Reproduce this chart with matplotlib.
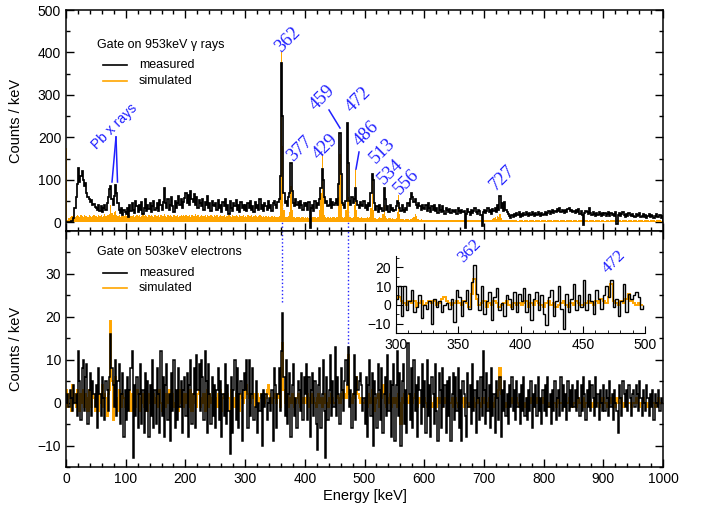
import numpy as np
import matplotlib
matplotlib.use("Agg")
import matplotlib.pyplot as plt
from matplotlib.ticker import MultipleLocator

plt.rcParams['font.family'] = ['Liberation Sans', 'DejaVu Sans']

# 2 keV bins from 0 to 1000 keV
bin_edges_kev = list(range(0, 1002, 2))

top_measured = [
    0, 0, 1, 2, 3, 4, 10, 35, 60, 90, 128, 95, 110, 122, 100, 85, 92, 70, 60, 55, 48, 52, 40, 44, 36,
    35, 30, 42, 28, 38, 25, 33, 40, 30, 45, 60, 78, 85, 55, 40, 62, 88, 70, 45, 30, 22, 35, 18, 30, 25,
    20, 35, 12, 40, 28, 45, 30, 22, 50, 38, 25, 42, 30, 48, 20, 35, 55, 28, 40, 32, 45, 25, 38, 50, 30,
    35, 45, 28, 52, 40, 30, 48, 80, 45, 35, 55, 30, 42, 60, 38, 25, 50, 35, 45, 62, 40, 55, 35, 48, 58,
    70, 45, 65, 40, 75, 55, 48, 68, 42, 60, 35, 52, 45, 38, 55, 30, 48, 40, 62, 35, 45, 28, 50, 42, 38,
    45, 30, 52, 35, 40, 25, 48, 38, 55, 30, 42, 20, 50, 35, 28, 45, 38, 52, 30, 40, 25, 48, 35, 42, 30,
    40, 28, 45, 35, 50, 30, 38, 25, 48, 35, 42, 30, 55, 32, 40, 28, 45, 38, 30, 50, 35, 42, 28, 45, 50,
    40, 35, 48, 55, 110, 375, 250, 70, 45, 50, 38, 60, 70, 140, 75, 45, 38, 55, 40, 48, 35, 50, 42, 30, 45,
    38, 45, 30, 48, -12, 35, 42, 28, 50, 35, 45, 40, 55, 80, 125, 100, 60, 45, 50, 38, 42, 55, 35, 48, 40,
    45, 55, 40, 90, 210, 115, 45, 40, 35, 50, 235, 140, 50, 40, 60, 45, 55, 80, 50, 40, 35, 48, 42, 38, 50,
    35, 42, 30, 45, 38, 70, 115, 100, 45, 30, 38, 25, 40, 32, 35, 28, 80, 55, 30, 38, 25, 42, 30, 35, 28,
    30, 38, 50, 45, 35, 28, 40, 30, 25, 35, 30, 45, 38, 55, 70, 60, 48, 55, 40, 35, 45, 38, 30, 42, 35,
    32, 40, 28, 45, 35, 25, 38, 30, 42, 28, 35, 22, 40, 30, 25, 38, 28, 20, 35, 30, 25, 32, 22, 30, 28,
    25, 30, 20, 35, 28, 22, 30, 25, 28, -12, 20, 32, 25, 18, 30, 22, 28, 35, 25, 20, 30, 26, 18, -8, 25,
    30, 22, 28, 35, 25, 30, 20, 32, 28, 35, 25, 40, 30, 62, 35, 45, 28, 48, 30, 25, 20, 15, 10, 18, 12,
    20, 15, 22, 18, 25, 12, 20, 16, 22, 18, 25, 20, 15, 22, 18, 24, 20, 15, 22, 18, 25, 20, 16, 22, 18,
    20, 25, 18, 22, 28, 20, 25, 30, 22, 28, 25, 32, 28, 35, 25, 30, 28, 22, 30, 25, 32, 35, 28, 30, 25,
    28, 22, 30, 25, 32, 20, 26, 18, -5, 22, 28, 25, 20, 35, 22, 18, 25, 20, 16, 22, 18, 24, 20, 15, 22,
    18, 22, 15, 20, 25, 16, 22, 18, 20, 15, 24, -4, 18, 22, 15, 20, 25, 18, 14, 20, 16, 22, 18, 15, 20,
    16, 12, 20, 15, 18, 22, 12, 16, 20, 14, 18, 10, 16, 20, 12, 18, 15, 10, 16, 20, 14, 12, 18, 10, 15,
]

top_simulated = [
    175, 5, 10, 14, 16, 15, 17, 14, 16, 18, 15, 13, 17, 16, 14, 18, 15, 16, 13, 17, 15, 14, 16, 18, 15,
    16, 14, 18, 15, 17, 13, 16, 19, 15, 17, 18, 20, 40, 22, 18, 25, 28, 18, 15, 17, 14, 16, 18, 15, 17,
    15, 17, 14, 18, 16, 15, 17, 13, 16, 18, 15, 17, 14, 16, 19, 15, 17, 16, 14, 18, 15, 17, 16, 14, 18,
    16, 15, 18, 14, 17, 16, 15, 19, 16, 14, 17, 15, 18, 16, 14, 17, 16, 15, 18, 14, 16, 17, 15, 18, 16,
    17, 15, 16, 18, 14, 17, 15, 16, 19, 15, 17, 14, 16, 18, 15, 16, 17, 14, 18, 16, 15, 17, 16, 14, 17,
    15, 17, 14, 16, 18, 15, 16, 17, 14, 16, 15, 18, 16, 14, 17, 15, 16, 18, 15, 14, 17, 16, 15, 17, 14,
    16, 14, 17, 15, 16, 18, 14, 15, 17, 16, 14, 15, 17, 16, 14, 15, 13, 16, 14, 15, 13, 14, 16, 13, 15,
    13, 14, 12, 15, 60, 400, 180, 30, 14, 12, 13, 15, 25, 85, 30, 14, 12, 11, 13, 12, 14, 11, 12, 13, 11,
    12, 11, 13, 10, 12, 11, 13, 12, 14, 11, 12, 13, 30, 70, 160, 60, 18, 12, 11, 13, 10, 12, 11, 13, 12,
    11, 12, 14, 60, 160, 50, 12, 11, 13, 30, 170, 60, 14, 12, 11, 13, 40, 125, 30, 12, 11, 10, 12, 11, 10,
    11, 10, 12, 11, 12, 35, 100, 30, 10, 11, 9, 10, 12, 11, 10, 20, 40, 15, 10, 9, 11, 10, 9, 10, 9,
    9, 10, 25, 65, 20, 9, 8, 9, 7, 8, 9, 8, 7, 9, 8, 10, 12, 20, 15, 9, 8, 7, 8, 7, 6,
    6, 5, 7, 6, 5, 6, 7, 5, 6, 5, 6, 7, 5, 6, 5, 6, 5, 7, 6, 5, 6, 5, 6, 7, 5,
    6, 5, 6, 7, 5, 6, 5, 6, 5, 7, 6, 5, 6, 5, 6, 7, 5, 6, 5, 6, 5, 6, 7, 5, 6,
    5, 6, 5, 7, 6, 5, 6, 8, 10, 12, 8, 15, 12, 20, 10, 7, 6, 5, 6, 5, 6, 5, 6, 5, 5,
    5, 6, 5, 4, 6, 5, 5, 6, 4, 5, 6, 5, 4, 5, 6, 5, 5, 4, 6, 5, 5, 6, 4, 5, 5,
    6, 5, 4, 5, 6, 5, 5, 4, 6, 5, 5, 6, 5, 4, 5, 6, 5, 5, 4, 6, 5, 5, 6, 5, 4,
    5, 5, 6, 4, 5, 6, 5, 5, 4, 6, 5, 5, 4, 6, 5, 5, 6, 4, 5, 5, 6, 5, 4, 5, 6,
    5, 4, 6, 5, 5, 4, 6, 5, 5, 6, 4, 5, 5, 6, 5, 4, 5, 6, 5, 5, 4, 6, 5, 5, 4,
    6, 5, 5, 4, 6, 5, 5, 6, 4, 5, 5, 6, 5, 4, 5, 5, 6, 5, 4, 5, 6, 5, 5, 4, 5,
]

bottom_measured = [
    0, 2, -1, 3, 1, -2, 4, 0, 2, -3, 12, 5, -4, 8, 10, -2, 6, 9, -5, 3, 7, -3, 5, 2, -1,
    4, -6, 8, 2, -3, 6, 1, -4, 5, 3, -2, 6, 16, 8, 4, -1, 10, -3, 5, 9, -5, 2, 7, -8, 3,
    -4, 6, -2, 3, 8, 12, -13, 4, -3, 6, -6, 2, 9, -5, 3, -7, 7, -2, 5, -8, 4, -3, 10, -6, 3,
    -5, 8, 2, -7, 12, -3, 6, -8, 4, 9, -4, 2, -9, 7, -2, 10, -6, 3, -4, 8, -1, 5, -7, 3, 6,
    -3, 7, -8, 4, 10, -5, 2, 8, -6, 11, 3, 9, -2, 10, 6, -4, 12, 5, -7, 9, 2, -5, 6, -3, 4,
    -6, 3, 8, -4, 5, -8, 2, -3, 9, -5, 4, -2, -12, 6, -7, 3, 10, -4, 8, -6, 2, 5, -9, 3, 7,
    3, 10, -6, 10, -3, 2, 8, -4, -1, 5, -7, 0, -2, 2, -10, 3, -1, 2, -4, 0, 1, -2, 3, -9, 8,
    4, -6, 2, 8, -2, 12, 21, 6, -3, 10, -5, 2, 7, -8, 4, 9, -3, 1, -6, 5, 3, -2, 7, -4, 6,
    2, 9, -4, 6, -8, 3, 7, -3, 5, -5, -11, 4, 8, -6, 2, 10, -2, -13, 6, -4, 3, 11, -3, 5, -1,
    13, -3, 6, 2, -5, 8, 3, -2, 5, 10, 4, 13, -1, 3, -6, 2, 11, -4, 6, 3, 5, 7, 4, -2, 1,
    -5, 6, -8, 4, 10, -3, 7, -10, 5, 2, -6, 9, 3, -4, 8, -7, 2, 6, -3, 11, -2, 5, -8, 4, 9,
    -9, 4, 12, -3, 7, -10, 5, 9, -5, 3, -7, 14, 2, -4, 8, -6, 10, -2, 4, -8, 6, 3, -5, 9, -1,
    5, -7, 10, -3, 4, -8, 6, 2, -5, 9, -2, -9, 7, 3, -6, 8, -1, 4, -7, 5, -3, 6, -9, 2, 7,
    -4, 6, -2, 8, -6, 3, -9, 5, 2, -3, -8, 7, -1, 4, -5, 9, -2, 3, -7, 5, 1, -4, 6, -3, 12,
    3, -5, 7, -2, 4, -6, 8, -3, 2, -7, 5, 1, -4, 6, -8, 3, -2, 5, -3, 2, -5, 4, -1, 6, -2,
    3, -4, 5, -1, 2, -5, 4, -2, 6, -3, 1, -4, 3, -2, 5, -6, 2, -1, 4, -3, 6, -2, 1, -5, 3,
    -2, 4, -3, 6, -1, 2, -5, 3, -2, 5, -4, 1, 3, -3, 6, -2, 4, -1, 2, -4, 5, -2, 3, -1, 4,
    -1, 3, -2, 5, 1, -3, 4, -2, 6, 2, -4, 3, -1, 5, -2, 4, 1, -3, 6, -1, 2, -4, 3, 0, -2,
    4, -2, 3, 1, -3, 5, -1, 2, -4, 3, 0, -2, -7, 4, 1, -3, 5, 2, -1, 3, -2, 4, 1, -3, 2,
    3, -1, 4, 2, -2, 5, 1, -3, 3, 0, -2, 4, 1, -3, 2, -1, 3, -4, 2, 0, -1, 3, -2, 1, 0,
]

bottom_simulated = [
    3, -1, 2, 1, -2, 4, 0, 2, -1, 3, 1, -2, 2, 0, 3, -1, 2, 1, -2, 3, 0, -1, 2, 1, -2,
    1, 3, -2, 2, 0, 4, -1, 2, 1, -3, 2, 3, 19, 5, -4, 2, 6, 1, -2, 3, 0, -1, 2, 1, -1,
    2, -1, 1, 3, -2, 2, 0, 1, -1, 3, 2, -2, 1, 0, 2, -1, 3, 1, -2, 2, 0, 1, -1, 2, 0,
    1, 2, -1, 3, 0, -2, 2, 1, -1, 2, 0, 3, -2, 1, 2, -1, 0, 2, 1, -2, 3, 0, 1, -1, 2,
    0, 2, -1, 1, 3, -2, 2, 0, 1, -1, 2, 3, -1, 1, 0, 2, -2, 1, 3, -1, 2, 0, 1, -1, 2,
    1, -1, 2, 0, 3, -2, 1, 2, -1, 0, 2, 1, -2, 3, 0, 1, -1, 2, 0, 1, -2, 2, 1, 0, 1,
    3, 4, 2, 1, 0, 2, 1, 2, -1, 1, 2, 0, 1, 2, 1, 2, 0, 1, 3, 4, 2, 1, 0, 1, 2,
    1, 0, 2, 1, -1, 6, 14, 3, 0, 1, 2, -1, 1, 0, 2, 1, -1, 0, 1, 2, 0, -1, 1, 0, 1,
    0, 1, 2, -1, 1, 0, 2, 1, 0, -1, 1, 2, 0, 1, -1, 0, 1, 2, 0, -1, 1, 0, 2, 1, 0,
    0, 1, 2, 1, 0, 2, 1, 3, 2, 1, 4, 11, 2, 1, 0, 2, 1, 3, 6, 2, 1, 0, 1, 0, 0,
    1, 0, -1, 2, 1, 0, 3, 1, -2, 0, 1, 2, -1, 0, 1, 4, 2, 0, -1, 1, 0, 2, -1, 0, 1,
    0, 1, -1, 2, 0, -5, 1, 0, 2, -1, 1, 0, 2, 1, -1, 0, 1, 2, 0, -1, 1, 0, 1, 0, -1,
    1, 0, -1, 1, 0, 1, -1, 0, 1, 0, -1, 1, 0, 0, 1, -1, 0, 1, 0, -1, 1, 0, 0, 1, -1,
    0, 1, 0, -1, 1, 0, 0, 1, -1, 0, 1, 0, -1, 0, 1, 0, 1, -1, 0, 0, 1, 0, -1, 1, 0,
    0, 1, 0, -1, 1, 0, 1, 0, -1, 1, 2, 1, 3, 8, 2, 0, 1, 0, -1, 0, 1, 0, 0, 1, 0,
    0, 0, 1, 0, -1, 0, 1, 0, 0, -1, 0, 1, 0, 0, 1, 0, -1, 0, 0, 1, 0, 0, -1, 0, 1,
    0, 1, 0, 0, -1, 0, 0, 1, 0, 0, -1, 0, 1, 0, 0, 0, 1, 0, -1, 0, 0, 1, 0, 0, -1,
    0, 0, -1, 0, 1, 0, 0, 0, 1, -1, 0, 0, 1, 0, 0, -1, 0, 1, 0, 0, 0, -1, 0, 1, 0,
    1, 0, 0, -1, 0, 0, 1, 0, 0, 0, -1, 1, 0, 0, 0, 1, -1, 0, 0, 1, 0, 0, 0, -1, 0,
    0, 0, 1, 0, 0, -1, 0, 0, 1, 0, 0, 0, -1, 0, 1, 0, 0, 0, -1, 0, 0, 1, 0, 0, 0,
]

peak_labels_top = ["362", "377", "429", "459", "472", "486", "513", "534", "556", "727"]
peak_labels_inset = ["362", "472"]
x_ticks = [0, 100, 200, 300, 400, 500, 600, 700, 800, 900, 1000]

ORANGE = "#FFA500"
BLUE = "#2020FF"
W, H = 713, 513

fig = plt.figure(figsize=(W / 100, H / 100), dpi=100)


def fx(px):
    return px / W


def fy(py):
    return 1 - py / H


ax1 = fig.add_axes([fx(66), fy(231), fx(663) - fx(66), fy(10) - fy(231)])
ax2 = fig.add_axes([fx(66), fy(467), fx(663) - fx(66), fy(231) - fy(467)])

edges = np.array(bin_edges_kev)

# top panel
ax1.stairs(top_simulated, edges, fill=True, color=ORANGE, zorder=2)
ax1.stairs(top_measured, edges, color="black", lw=1.25, zorder=3)
ax1.set_xlim(0, 1000)
ax1.set_ylim(-20, 500)
ax1.plot([362, 362], [-20, 50], ls=":", color=BLUE, lw=1, zorder=1)
ax1.plot([472, 472], [-20, 30], ls=":", color=BLUE, lw=1, zorder=1)

# bottom panel
ax2.stairs(bottom_simulated, edges, color=ORANGE, lw=1.4, zorder=2)
ax2.stairs(bottom_measured, edges, color="black", lw=1.1, zorder=3)
ax2.set_xlim(0, 1000)
ax2.set_ylim(-15, 40)
ax2.plot([362, 362], [23.5, 40], ls=":", color=BLUE, lw=1, zorder=1)
ax2.plot([472, 472], [13, 40], ls=":", color=BLUE, lw=1, zorder=1)

for ax in (ax1, ax2):
    ax.tick_params(which="both", direction="in", top=True, right=True, labelsize=10)
    ax.tick_params(which="major", length=6, width=1)
    ax.tick_params(which="minor", length=3, width=1)
    ax.set_xticks(x_ticks)
    ax.xaxis.set_minor_locator(MultipleLocator(20))
    for s in ax.spines.values():
        s.set_linewidth(1.1)
    ax.set_ylabel("Counts / keV", fontsize=10.5)
    ax.yaxis.set_label_coords(-0.072, 0.5)

ax1.set_yticks([0, 100, 200, 300, 400, 500])
ax1.yaxis.set_minor_locator(MultipleLocator(50))
ax1.tick_params(labelbottom=False)
ax2.set_yticks([-10, 0, 10, 20, 30])
ax2.yaxis.set_minor_locator(MultipleLocator(5))
ax2.set_xlabel("Energy [keV]", fontsize=10.5, labelpad=2)


def legend(ax, title, y_title, y_m, y_s):
    ax.text(0.052, y_title, title, transform=ax.transAxes, fontsize=9, va="center", ha="left")
    ax.plot([0.062, 0.102], [y_m, y_m], transform=ax.transAxes, color="black", lw=1.2)
    ax.plot([0.062, 0.102], [y_s, y_s], transform=ax.transAxes, color=ORANGE, lw=1.2)
    ax.text(0.122, y_m, "measured", transform=ax.transAxes, fontsize=9, va="center", ha="left")
    ax.text(0.122, y_s, "simulated", transform=ax.transAxes, fontsize=9, va="center", ha="left")


legend(ax1, "Gate on 953keV γ rays", 0.842, 0.751, 0.679)
legend(ax2, "Gate on 503keV electrons", 0.911, 0.822, 0.758)

SERIF = ["Liberation Serif", "DejaVu Serif"]
label_pos = [(288, 40), (300, 149), (325, 147), (322, 98), (358, 100),
             (366, 134), (383, 151), (391, 172), (407, 182), (503, 178)]
for txt, (px, py) in zip(peak_labels_top, label_pos):
    fig.text(fx(px), fy(py), txt, color=BLUE, fontsize=13.5, rotation=45,
             ha="center", va="center", family=SERIF)
fig.text(fx(115), fy(127), "Pb x rays", color=BLUE, fontsize=10, rotation=45,
         ha="center", va="center")
for (x0, y0, x1, y1) in [(329, 110, 340, 128), (359, 152, 356, 169),
                         (116, 137, 112, 182), (116, 137, 117.5, 182)]:
    fig.add_artist(plt.Line2D([fx(x0), fx(x1)], [fy(y0), fy(y1)],
                              transform=fig.transFigure, color=BLUE, lw=1.1))

# inset
axi = fig.add_axes([fx(396), fy(333), fx(645) - fx(396), fy(256) - fy(333)])
lo, hi = 150, 250  # bins covering 300-500 keV
axi.stairs(bottom_simulated[lo:hi - 1], edges[lo:hi], color=ORANGE, lw=1.4, zorder=2)
axi.stairs(bottom_measured[lo:hi - 1], edges[lo:hi], color="black", lw=1.0, zorder=3)
axi.set_xlim(300, 500)
axi.set_ylim(-15, 26)
axi.set_xticks([300, 350, 400, 450, 500])
axi.xaxis.set_minor_locator(MultipleLocator(10))
axi.set_yticks([-10, 0, 10, 20])
axi.yaxis.set_minor_locator(MultipleLocator(5))
axi.spines["top"].set_visible(False)
axi.spines["right"].set_visible(False)
axi.tick_params(which="both", direction="in", labelsize=10)
axi.tick_params(which="major", length=5)
axi.tick_params(which="minor", length=2.5)
for txt, (px, py) in zip(peak_labels_inset, [(470, 251), (614, 262)]):
    fig.text(fx(px), fy(py), txt, color=BLUE, fontsize=12.5, rotation=45,
             ha="center", va="center", family=SERIF)

fig.savefig("out.png", dpi=100)
